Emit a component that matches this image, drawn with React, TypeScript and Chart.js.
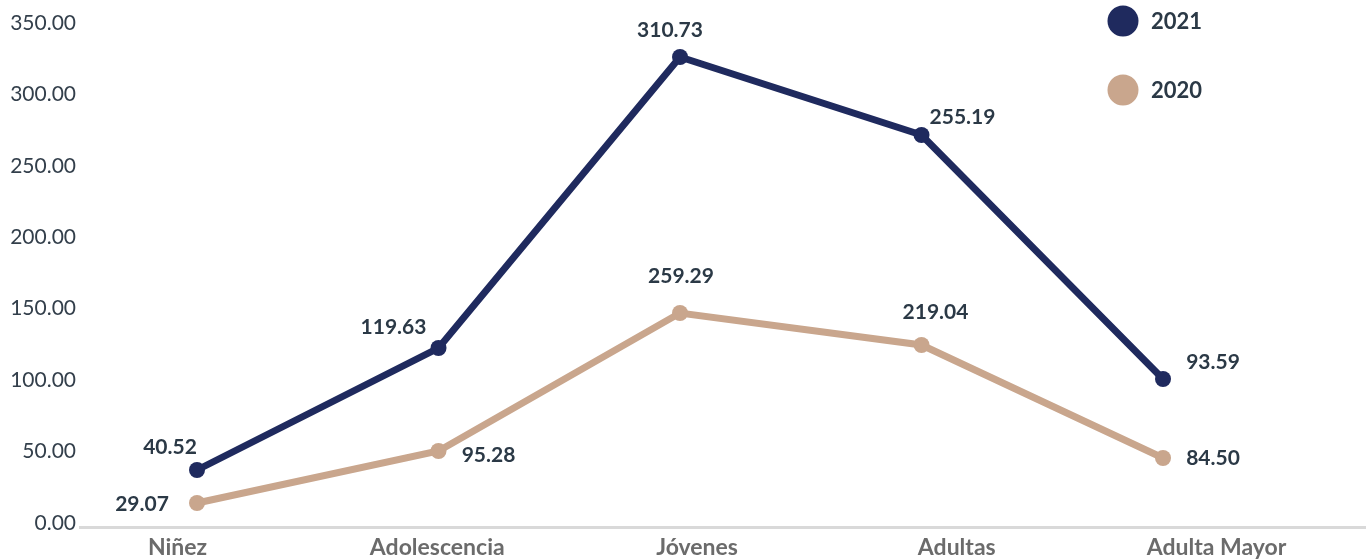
import React, { useEffect, useRef } from 'react';
import { Chart, registerables } from 'chart.js';

Chart.register(...registerables);

// ---- data ----
const categories = ['Niñez', 'Adolescencia', 'Jóvenes', 'Adultas', 'Adulta Mayor'];
const seriesNames = ['2021', '2020'];
const values2021 = [39.9, 125.3, 329.0, 274.4, 103.6];
const values2020 = [16.8, 53.2, 149.8, 127.4, 48.3];
const labels2021 = ['40.52', '119.63', '310.73', '255.19', '93.59'];
const labels2020 = ['29.07', '95.28', '259.29', '219.04', '84.50'];
const yMin = 0;
const yMax = 350;
const yStep = 50;

// ---- styling / layout ----
const COLOR_2021 = '#1f2a5e';
const COLOR_2020 = '#c9a68d';
const TEXT_DARK = '#2b3946';
const FONT = 'Lato, "Open Sans", sans-serif';

// offsets (px) of each value label from its point
const labelOffsets = [
  [[-27, -23], [-45, -21], [-10, -27], [41, -18], [50, -17]],
  [[-55, 1], [50, 4], [1, -37], [14, -33], [50, 0]],
];

const valueLabels = [labels2021, labels2020];
const colors = [COLOR_2021, COLOR_2020];

const overlayPlugin = {
  id: 'overlay',
  afterDatasetsDraw(chart: any) {
    const ctx = chart.ctx;
    ctx.save();
    ctx.font = `bold 21px ${FONT}`;
    ctx.fillStyle = TEXT_DARK;
    ctx.textAlign = 'center';
    ctx.textBaseline = 'middle';
    chart.data.datasets.forEach((_ds: any, di: number) => {
      const meta = chart.getDatasetMeta(di);
      meta.data.forEach((pt: any, i: number) => {
        const [dx, dy] = labelOffsets[di][i];
        ctx.fillText(valueLabels[di][i], pt.x + dx, pt.y + dy);
      });
    });
    // legend
    ctx.font = `bold 22px ${FONT}`;
    chart.data.datasets.forEach((ds: any, di: number) => {
      const cy = 21 + di * 69;
      ctx.beginPath();
      ctx.arc(1123, cy, 15.5, 0, Math.PI * 2);
      ctx.fillStyle = ds.borderColor;
      ctx.fill();
      ctx.fillStyle = TEXT_DARK;
      ctx.textAlign = 'left';
      ctx.fillText(ds.label, 1151, cy + 1);
    });
    ctx.restore();
  },
};

export default function App() {
  const canvasRef = useRef<HTMLCanvasElement | null>(null);

  useEffect(() => {
    if (!canvasRef.current) return;
    Chart.defaults.font.family = FONT;
    const mk = (vals: number[]) => vals.map((y, i) => ({ x: i, y }));
    const chart = new Chart(canvasRef.current, {
      type: 'line',
      data: {
        datasets: [
          {
            label: seriesNames[0],
            data: mk(values2021),
            borderColor: colors[0],
            backgroundColor: colors[0],
            borderWidth: 7,
            pointRadius: 8,
            pointBorderWidth: 0,
            pointBackgroundColor: colors[0],
            tension: 0,
            clip: false,
          },
          {
            label: seriesNames[1],
            data: mk(values2020),
            borderColor: colors[1],
            backgroundColor: colors[1],
            borderWidth: 7,
            pointRadius: 8,
            pointBorderWidth: 0,
            pointBackgroundColor: colors[1],
            tension: 0,
            clip: false,
          },
        ],
      },
      options: {
        animation: false,
        responsive: false,
        maintainAspectRatio: false,
        layout: { autoPadding: false, padding: { top: 27, right: 0, left: 0, bottom: 0 } },
        plugins: {
          legend: { display: false },
          tooltip: { enabled: false },
        },
        scales: {
          // data axis: positions the points, draws the baseline
          x: {
            type: 'linear',
            position: 'bottom',
            weight: 0,
            min: -0.4845,
            max: 4.8405,
            grid: { display: false, drawTicks: false },
            border: { display: true, color: '#d9d9d9', width: 3 },
            ticks: { display: false, stepSize: 1 },
            afterFit: (scale: any) => {
              scale.height = 0;
              scale.paddingLeft = 0;
              scale.paddingRight = 0;
            },
          },
          // category label axis
          xl: {
            type: 'linear',
            position: 'bottom',
            weight: 1,
            min: -0.3754,
            max: 4.5755,
            grid: { display: false, drawTicks: false },
            border: { display: false },
            ticks: {
              stepSize: 1,
              includeBounds: false,
              autoSkip: false,
              maxRotation: 0,
              padding: 7,
              color: '#6b6b6b',
              font: { size: 23, weight: 'bold', family: FONT },
              callback: (v: any) => (Number.isInteger(v) && categories[v] ? categories[v] : ''),
            },
            afterFit: (scale: any) => {
              scale.height = 33;
              scale.paddingLeft = 0;
              scale.paddingRight = 0;
            },
          },
          y: {
            min: yMin,
            max: yMax,
            grid: { display: false, drawTicks: false },
            border: { display: false },
            ticks: {
              stepSize: yStep,
              padding: 4,
              labelOffset: -4,
              color: '#333f4b',
              font: { size: 21, family: FONT },
              callback: (v: any) => Number(v).toFixed(2),
            },
            afterFit: (scale: any) => {
              scale.width = 80;
            },
          },
        },
      } as any,
      plugins: [overlayPlugin],
    });
    return () => chart.destroy();
  }, []);

  return (
    <div style={{ position: 'absolute', left: 0, top: 0, width: 1366, height: 560, background: '#fff' }}>
      <canvas ref={canvasRef} width={1366} height={560} style={{ width: 1366, height: 560 }} />
    </div>
  );
}
